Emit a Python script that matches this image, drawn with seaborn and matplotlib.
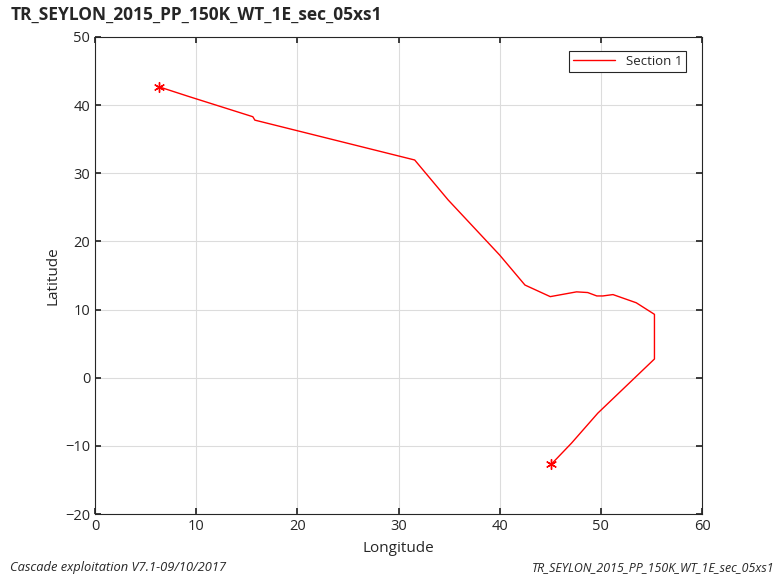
import seaborn as sns
import pandas as pd
import matplotlib.pyplot as plt

# track of section 1
lon = [6.3, 9.2, 15.6, 15.8, 31.6, 34.9, 40.0, 42.5, 45.0, 47.6, 48.7, 49.6,
       50.2, 51.2, 53.5, 55.3, 55.3, 49.7, 47.1, 45.1]
lat = [42.7, 41.3, 38.3, 37.8, 31.95, 26.1, 18.0, 13.6, 11.9, 12.6, 12.5, 12.0,
       12.0, 12.2, 11.0, 9.3, 2.75, -5.2, -9.6, -12.7]
xticks = [0, 10, 20, 30, 40, 50, 60]
yticks = [-20, -10, 0, 10, 20, 30, 40, 50]

name = "TR_SEYLON_2015_PP_150K_WT_1E_sec_05xs1"

sns.set_theme(style="whitegrid")
plt.rcParams['font.family'] = ['Open Sans', 'DejaVu Sans']

df = pd.DataFrame({"Longitude": lon, "Latitude": lat})
ends = df.iloc[[0, -1]]

fig = plt.figure(figsize=(7.82, 5.78), dpi=100)
ax = fig.add_axes([0.1215, 0.1107, 0.7762, 0.8253])
sns.lineplot(x="Longitude", y="Latitude", data=df, sort=False, estimator=None,
             color="red", linewidth=1, label="Section 1", ax=ax)
# start / end markers
sns.scatterplot(x="Longitude", y="Latitude", data=ends, marker=(6, 2, 0),
                color="red", edgecolor="red", linewidth=1, s=50, ax=ax)

ax.set_xlim(0, 60)
ax.set_ylim(-20, 50)
ax.set_xticks(xticks)
ax.set_yticks(yticks)
ax.grid(True, color="#dcdcdc", linewidth=0.8)
for s in ax.spines.values():
    s.set_color("#262626")
    s.set_linewidth(0.8)
ax.tick_params(direction="in", length=4, colors="#262626", labelsize=10.5,
               bottom=True, left=True, top=True, right=True,
               labeltop=False, labelright=False)
ax.set_xlabel("Longitude", fontsize=11, color="#262626", labelpad=5)
ax.set_ylabel("Latitude", fontsize=11, color="#262626", labelpad=3)

leg = ax.legend(loc="upper right", fontsize=9.5, fancybox=False, framealpha=1,
                edgecolor="#262626", handlelength=3.2, borderpad=0.3,
                bbox_to_anchor=(0.985, 0.985))
leg.get_frame().set_linewidth(0.8)

fig.text(0.013, 0.975, name, fontsize=12.5, fontweight="bold", ha="left", va="center")
fig.text(0.013, 0.018, "Cascade exploitation V7.1-09/10/2017", fontsize=9.3,
         style="italic", ha="left", va="center")
fig.text(0.991, 0.018, name, fontsize=8.9, style="italic", ha="right", va="center")

fig.savefig("out.png", dpi=100)
